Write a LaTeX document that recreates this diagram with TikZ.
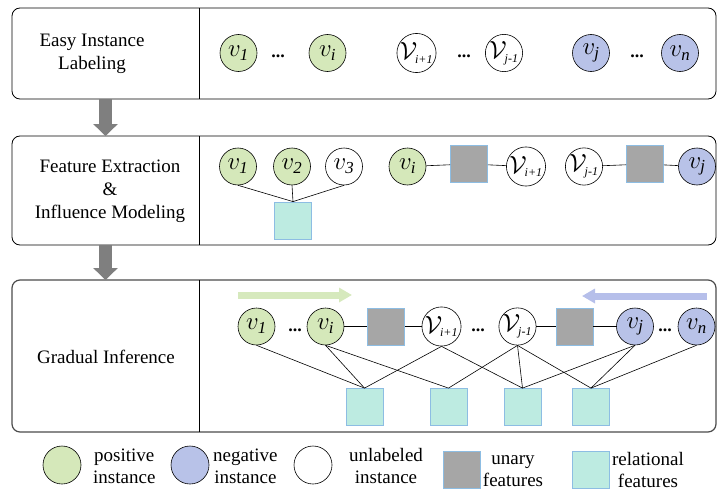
\documentclass[tikz,border=0pt]{standalone}
\usepackage{amsmath}
\usepackage{fontspec}
\setmainfont{Liberation Serif}
\usetikzlibrary{arrows.meta, positioning}

\definecolor{posgreen}{HTML}{D5E8BA}
\definecolor{negblue}{HTML}{B8C2E8}
\definecolor{relcyan}{HTML}{BDEBE1}
\definecolor{unarygray}{HTML}{A6A6A6}
\definecolor{sqedge}{HTML}{8DBDE3}
\definecolor{flowgray}{HTML}{7F7F7F}
\definecolor{fwdgreen}{HTML}{D6E9BD}
\definecolor{bwdblue}{HTML}{B6BFEA}

\newcommand{\Vsub}[1]{$\mathcal{V}_{\scriptscriptstyle\text{\itshape #1}}$}

\tikzset{
  inst/.style={circle, draw, line width=0.6pt, minimum size=37pt, inner sep=0pt,
    font=\fontsize{24}{24}\selectfont},
  posinst/.style={inst, fill=posgreen},
  neginst/.style={inst, fill=negblue},
  unlinst/.style={inst, fill=white},
  unaryf/.style={rectangle, draw=sqedge, fill=unarygray, line width=0.8pt,
    minimum size=37pt, inner sep=0pt},
  relf/.style={rectangle, draw=sqedge, fill=relcyan, line width=0.8pt,
    minimum size=37pt, inner sep=0pt},
  stage/.style={draw, rounded corners=8pt, line width=0.8pt},
  steplabel/.style={align=center, font=\fontsize{19}{23}\selectfont},
  legtext/.style={align=center, font=\fontsize{19}{22}\selectfont, inner sep=0pt},
  dotsep/.style={font=\bfseries\fontsize{18}{18}\selectfont, inner sep=0pt},
  flow/.style={draw=flowgray, line width=13pt, -{Triangle[width=24pt, length=12pt]}},
  link/.style={line width=0.6pt}
}

\begin{document}
\begin{tikzpicture}[x=1pt, y=-1pt]
  \useasboundingbox (0,0) rectangle (717,495);

  % Stage boxes
  \draw[stage] (12,8) rectangle (716,99);
  \draw[line width=0.8pt] (199,8) -- (199,99);
  \draw[stage] (12,136) rectangle (716,245);
  \draw[line width=0.8pt] (199,136) -- (199,245);
  \draw[stage, draw=black!70, line width=1.2pt] (12,280) rectangle (716,432);
  \draw[line width=0.8pt] (199,280) -- (199,432);

  \node[steplabel] (lab1) at (92,54) {Easy Instance\\Labeling};
  \node[steplabel] (lab2) at (110,191) {Feature Extraction\\\&\\Influence Modeling};
  \node[steplabel] (lab3) at (106,357) {Gradual Inference};

  % Flow between stages
  \coordinate (f1a) at (105.5,99);
  \coordinate (f1b) at (105.5,136);
  \coordinate (f2a) at (105.5,245);
  \coordinate (f2b) at (105.5,280);
  \draw[flow] (f1a) -- (f1b);
  \draw[flow] (f2a) -- (f2b);

  % Easy instance labeling
  \node[posinst] (a1) at (238.5,53) {$v_{\mathit{1}}$};
  \node[dotsep] (ad1) at (278,56) {...};
  \node[posinst] (ai) at (327.5,53) {$v_{\mathit{i}}$};
  \node[unlinst] (ai1) at (416.5,53) {\Vsub{i+1}};
  \node[dotsep] (ad2) at (464,56) {...};
  \node[unlinst] (aj1) at (504,53) {\Vsub{j-1}};
  \node[neginst] (aj) at (591,53) {$v_{\mathit{j}}$};
  \node[dotsep] (ad3) at (637,56) {...};
  \node[neginst] (an) at (680,53) {$v_{\mathit{n}}$};

  % Feature extraction & influence modeling
  \node[posinst] (b1) at (238,166.5) {$v_{\mathit{1}}$};
  \node[posinst] (b2) at (292,166.5) {$v_{\mathit{2}}$};
  \node[unlinst] (b3) at (344,166.5) {$v_{\mathit{3}}$};
  \node[relf] (br) at (293,220.5) {};
  \foreach \n in {b1,b2,b3}
    \draw[link] (\n.south) -- (br.north);
  \node[posinst] (bi) at (407.5,166.5) {$v_{\mathit{i}}$};
  \node[unaryf] (bu1) at (469,164) {};
  \node[unlinst] (bi1) at (526,166.5) {\Vsub{i+1}};
  \node[unlinst] (bj1) at (584,166.5) {\Vsub{j-1}};
  \node[unaryf] (bu2) at (645,164) {};
  \node[neginst] (bj) at (697,166.5) {$v_{\mathit{j}}$};
  \draw[link] (bi) -- (bu1) -- (bi1);
  \draw[link] (bj1) -- (bu2) -- (bj);

  % Gradual inference
  \coordinate (gfa) at (238,295);
  \coordinate (gfb) at (352,295);
  \coordinate (gba) at (707,296);
  \coordinate (gbb) at (582,296);
  \draw[draw=fwdgreen, line width=7pt, -{Triangle[width=14pt, length=13pt]}] (gfa) -- (gfb);
  \draw[draw=bwdblue, line width=7pt, -{Triangle[width=14pt, length=13pt]}] (gba) -- (gbb);

  \node[posinst] (c1) at (256.5,326.5) {$v_{\mathit{1}}$};
  \node[dotsep] (cd1) at (295,330) {...};
  \node[posinst] (ci) at (325.5,326.5) {$v_{\mathit{i}}$};
  \node[unaryf] (cu1) at (386,326.5) {};
  \node[unlinst] (ci1) at (441.5,326.5) {\Vsub{i+1}};
  \node[dotsep] (cd2) at (478,330) {...};
  \node[unlinst] (cj1) at (517.5,326.5) {\Vsub{j-1}};
  \node[unaryf] (cu2) at (574.5,326.5) {};
  \node[neginst] (cj) at (635,326.5) {$v_{\mathit{j}}$};
  \node[dotsep] (cd3) at (665,330) {...};
  \node[neginst] (cn) at (696.5,326.5) {$v_{\mathit{n}}$};
  \draw[link] (ci) -- (cu1) -- (ci1);
  \draw[link] (cj1) -- (cu2) -- (cj);

  \node[relf] (r1) at (364.5,407) {};
  \node[relf] (r2) at (448.5,407) {};
  \node[relf] (r3) at (522.5,407) {};
  \node[relf] (r4) at (591,407) {};
  \foreach \s/\t in {c1/r1, ci/r1, ci1/r1, ci/r2, cj1/r2, ci1/r3, cj1/r3, cj/r3, cj1/r4, cj/r4, cn/r4}
    \draw[link] (\s.south) -- (\t.north);

  % Legend
  \node[posinst, minimum size=38pt] (lpos) at (62,465) {};
  \node[legtext, anchor=west] (lpost) at (93,466) {positive\\instance};
  \node[neginst, minimum size=38pt] (lneg) at (190,465) {};
  \node[legtext, anchor=west] (lnegt) at (213,466) {negative\\instance};
  \node[unlinst, minimum size=38pt] (lunl) at (313,465) {};
  \node[legtext] (lunlt) at (386,466) {unlabeled\\instance};
  \node[unaryf] (lun) at (462,470) {};
  \node[legtext] (lunt) at (513,471) {unary\\features};
  \node[relf] (lrel) at (591,470) {};
  \node[legtext] (lrelt) at (648,470) {relational\\features};
\end{tikzpicture}
\end{document}
